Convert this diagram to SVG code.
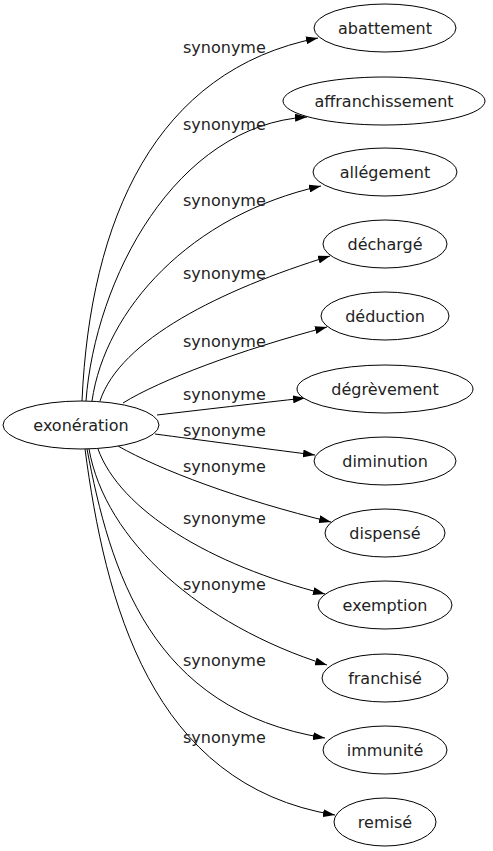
<svg xmlns="http://www.w3.org/2000/svg" width="493" height="851" viewBox="0 0 493 851">
<defs>
<marker id="arr" viewBox="0 0 12 8" refX="12" refY="4" markerWidth="12" markerHeight="8" markerUnits="userSpaceOnUse" orient="auto">
<path d="M0,0 L12,4 L0,8 z" fill="#000"/>
</marker>
<style>
.n ellipse{fill:#fff;stroke:#000;stroke-width:1}
.n text{font-family:"DejaVu Sans",sans-serif;font-size:16px;fill:#222;text-anchor:middle}
.e path{fill:none;stroke:#000;stroke-width:1;marker-end:url(#arr)}
.l text{font-family:"DejaVu Sans",sans-serif;font-size:16px;fill:#222}
</style>
</defs>
<rect width="493" height="851" fill="#fff"/>
<g class="e" id="edges">
<path d="M82,401 C90,220 155,70 318,38"/>
<path d="M86,401 C95,280 175,125 307,117"/>
<path d="M92,401 C105,310 190,215 321,186"/>
<path d="M100,401 C120,340 220,290 330,256"/>
<path d="M123,403 C160,380 240,350 327,327"/>
<path d="M157,415 C200,410 260,403 305,398"/>
<path d="M155,434 C200,440 260,448 315,455"/>
<path d="M118,446 C160,470 240,500 331,522"/>
<path d="M98,449 C120,510 210,565 325,594"/>
<path d="M89,449 C105,540 200,625 327,665"/>
<path d="M87,449 C110,570 150,710 325,738"/>
<path d="M85,449 C105,600 150,785 335,815"/>
</g>
<g class="l" id="labels">
<text x="183" y="53">synonyme</text>
<text x="183" y="130">synonyme</text>
<text x="183" y="206">synonyme</text>
<text x="183" y="279">synonyme</text>
<text x="183" y="347">synonyme</text>
<text x="183" y="400">synonyme</text>
<text x="183" y="436">synonyme</text>
<text x="183" y="472">synonyme</text>
<text x="183" y="524">synonyme</text>
<text x="183" y="590">synonyme</text>
<text x="183" y="666">synonyme</text>
<text x="183" y="743">synonyme</text>
</g>
<g class="n" id="exoneration"><ellipse cx="81" cy="425" rx="78" ry="24"/><text x="81" y="431">exonération</text></g>
<g class="n" id="abattement"><ellipse cx="385" cy="28" rx="71" ry="24"/><text x="385" y="34">abattement</text></g>
<g class="n" id="affranchissement"><ellipse cx="384" cy="101" rx="101" ry="24"/><text x="384" y="107">affranchissement</text></g>
<g class="n" id="allegement"><ellipse cx="385" cy="172" rx="72" ry="24"/><text x="385" y="178">allégement</text></g>
<g class="n" id="decharge"><ellipse cx="385" cy="244" rx="62" ry="24"/><text x="385" y="250">déchargé</text></g>
<g class="n" id="deduction"><ellipse cx="385" cy="316" rx="64" ry="24"/><text x="385" y="322">déduction</text></g>
<g class="n" id="degrevement"><ellipse cx="385" cy="389" rx="88" ry="24"/><text x="385" y="395">dégrèvement</text></g>
<g class="n" id="diminution"><ellipse cx="385" cy="461" rx="71" ry="24"/><text x="385" y="467">diminution</text></g>
<g class="n" id="dispense"><ellipse cx="385" cy="533" rx="60" ry="24"/><text x="385" y="539">dispensé</text></g>
<g class="n" id="exemption"><ellipse cx="385" cy="605" rx="67" ry="24"/><text x="385" y="611">exemption</text></g>
<g class="n" id="franchise"><ellipse cx="385" cy="678" rx="63" ry="24"/><text x="385" y="684">franchisé</text></g>
<g class="n" id="immunite"><ellipse cx="385" cy="750" rx="62" ry="24"/><text x="385" y="756">immunité</text></g>
<g class="n" id="remise"><ellipse cx="385" cy="822" rx="51" ry="24"/><text x="385" y="828">remisé</text></g>
</svg>
